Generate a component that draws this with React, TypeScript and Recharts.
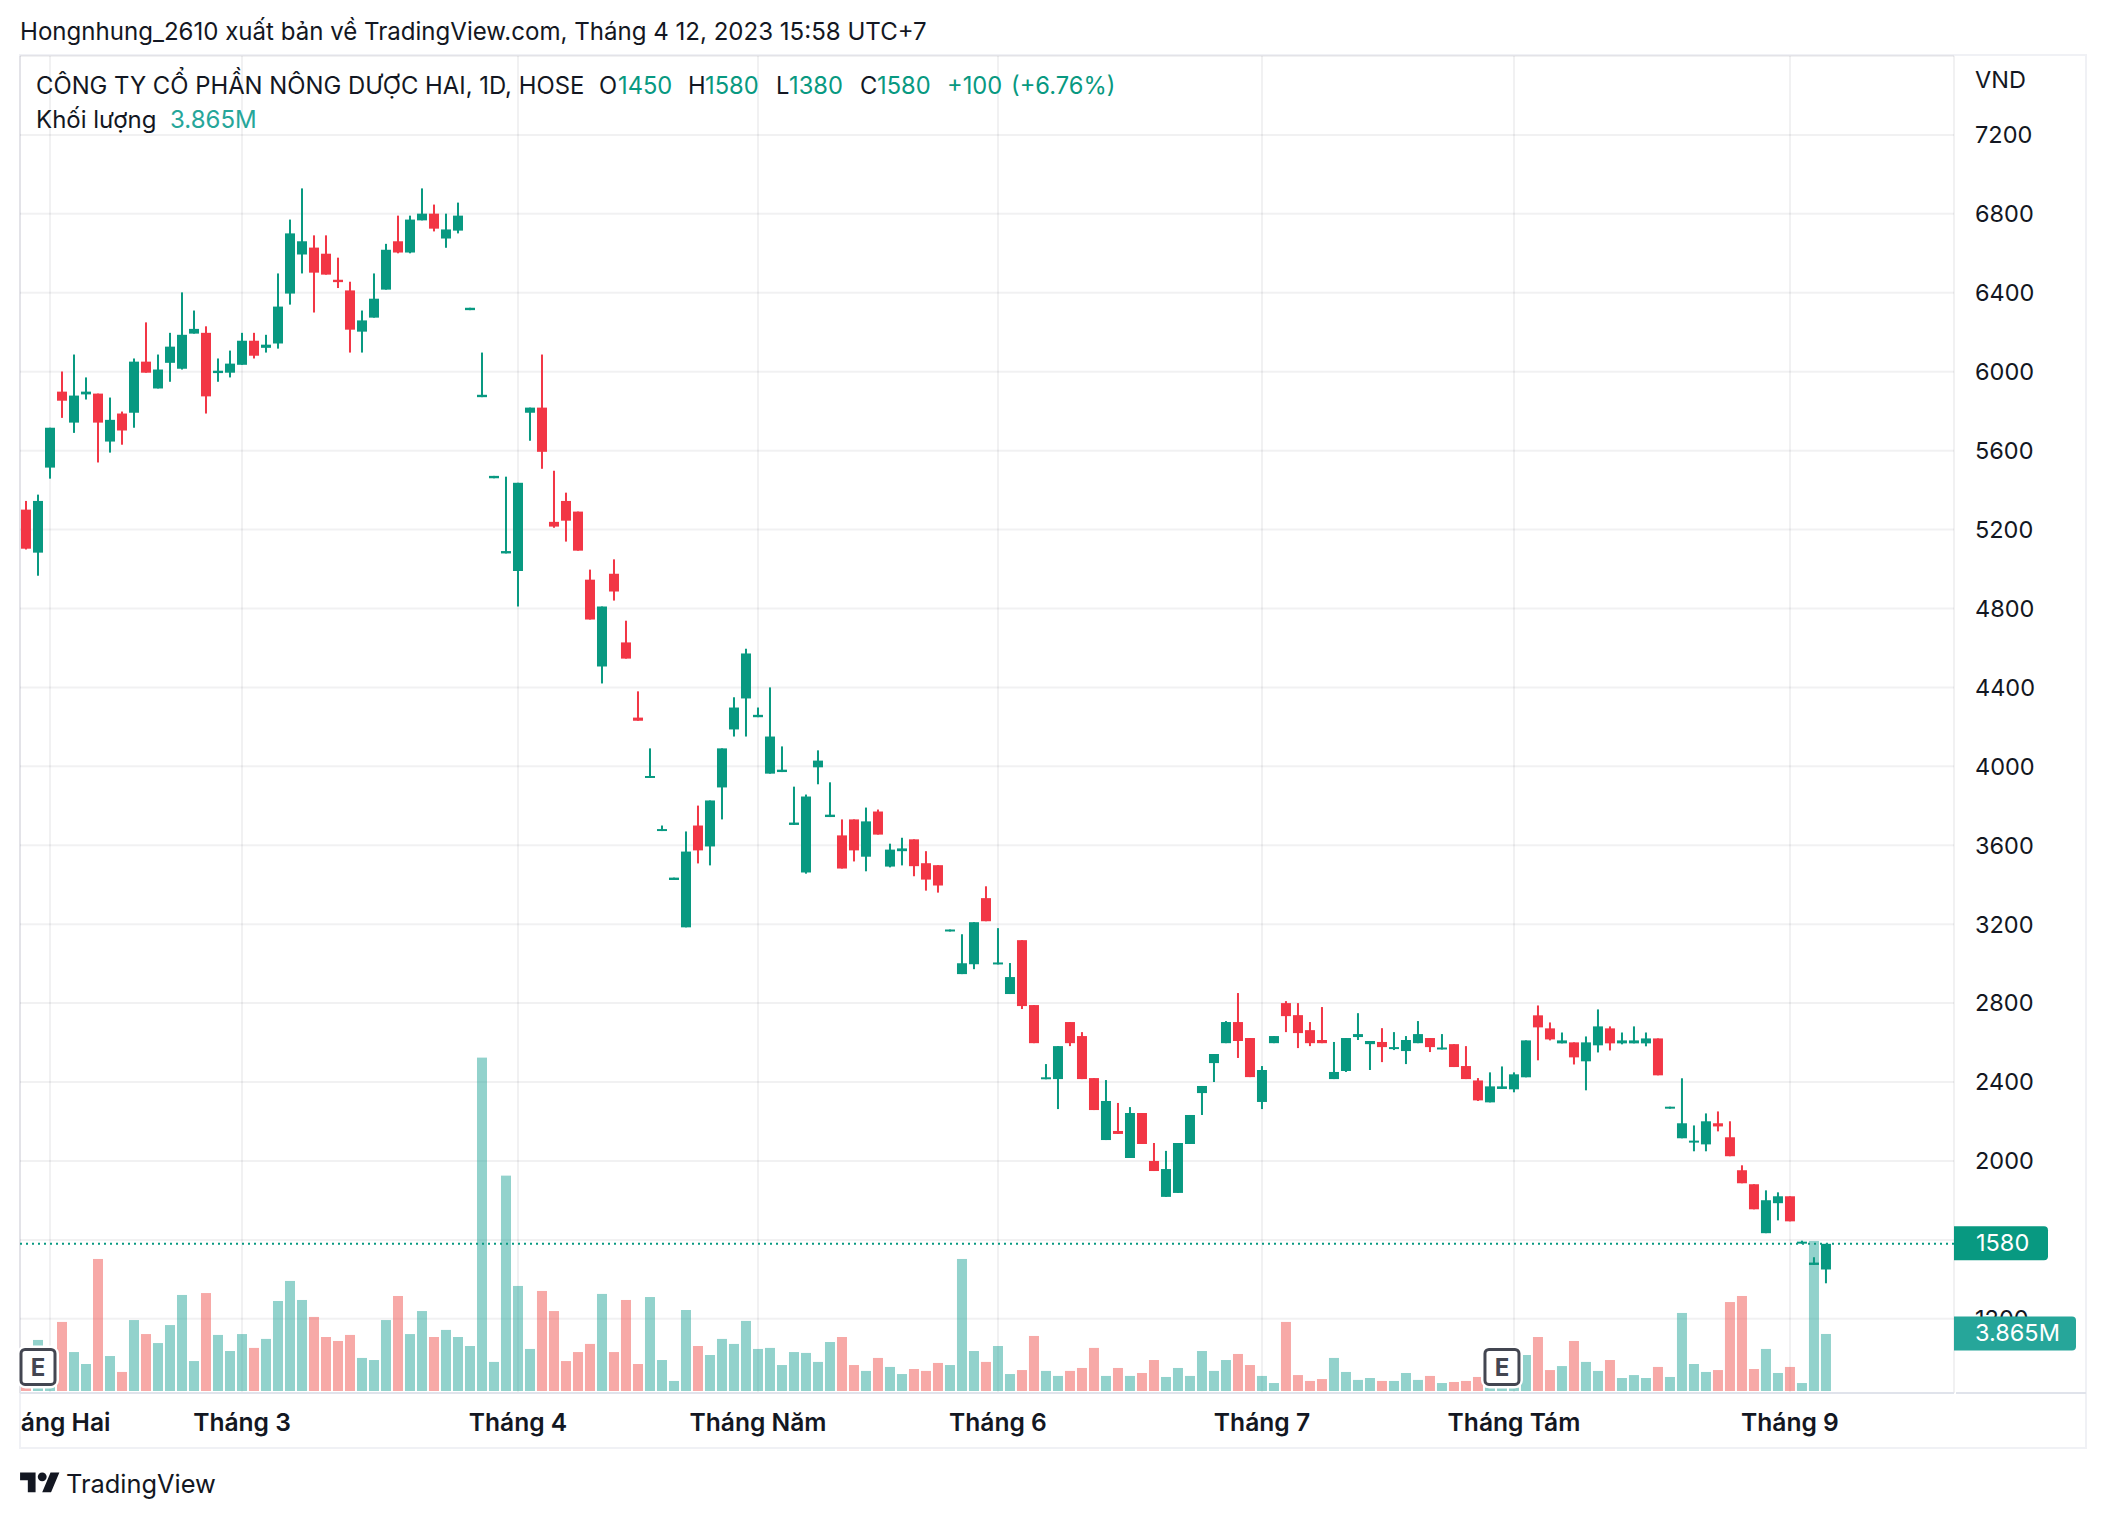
import React from "react";
import { ComposedChart, Bar, XAxis, YAxis, CartesianGrid, ReferenceLine, ReferenceDot } from "recharts";

const FONT = "Inter, 'Noto Sans', sans-serif";
const TEAL = "#089981";
const RED = "#F23645";
const VOL_TEAL = "#26a69a";
const VOL_RED = "#ef5350";
const INK = "#131722";
const GRID = "rgba(42,46,57,0.065)";

const titleText = "Hongnhung_2610 xuất bản về TradingView.com, Tháng 4 12, 2023 15:58 UTC+7";
const symbolText = "CÔNG TY CỔ PHẦN NÔNG DƯỢC HAI, 1D, HOSE";
const volumeLabel = "Khối lượng";
const lastVolumeText = "3.865M";
const lastPriceText = "1580";

const priceTicks = [1200, 1600, 2000, 2400, 2800, 3200, 3600, 4000, 4400, 4800, 5200, 5600, 6000, 6400, 6800, 7200];
const hiddenPriceLabels = [1600];
const monthTickIndex = [2, 18, 41, 61, 81, 103, 124, 147];
const monthTickLabels = ["Tháng Hai", "Tháng 3", "Tháng 4", "Tháng Năm", "Tháng 6", "Tháng 7", "Tháng Tám", "Tháng 9"];
const earningsIndex = [1, 123];

const opens = [
  5301, 5083, 5514, 5899, 5742, 5885, 5889, 5646, 5788, 5792, 6051, 5915, 6045, 6015, 6193, 6197, 5993, 5995, 6035, 6157,
  6121, 6143, 6396, 6594, 6629, 6598, 6466, 6412, 6203, 6274, 6416, 6661, 6604, 6767, 6801, 6675, 6715, 6312, 5871, 5460,
  5079, 4990, 5792, 5818, 5239, 5345, 5291, 4946, 4506, 4976, 4628, 4247, 3941, 3672, 3424, 3184, 3700, 3594, 3893, 4187,
  4344, 4249, 3963, 3971, 3703, 3462, 3995, 3743, 3650, 3731, 3542, 3771, 3492, 3570, 3630, 3509, 3499, 3163, 2947, 2997,
  3332, 2996, 2846, 3119, 2790, 2414, 2415, 2704, 2633, 2420, 2106, 2152, 2015, 2243, 2000, 1818, 1838, 2086, 2344, 2496,
  2597, 2704, 2623, 2299, 2597, 2800, 2739, 2663, 2613, 2415, 2456, 2628, 2592, 2603, 2567, 2557, 2597, 2623, 2565, 2592,
  2481, 2408, 2297, 2365, 2363, 2424, 2738, 2672, 2596, 2601, 2505, 2586, 2672, 2596, 2596, 2596, 2621, 2265, 2115, 2093,
  2084, 2191, 2120, 1953, 1882, 1634, 1786, 1821, 1581, 1473, 1450,
];
const highs = [
  5345, 5377, 5716, 6001, 6087, 5971, 5889, 5869, 5798, 6067, 6250, 6087, 6197, 6402, 6310, 6230, 6067, 6107, 6197, 6197,
  6187, 6498, 6771, 6929, 6691, 6691, 6578, 6456, 6310, 6498, 6648, 6791, 6791, 6929, 6847, 6801, 6857, 6324, 6097, 5472,
  5468, 5437, 5818, 6087, 5498, 5387, 5291, 4997, 4810, 5049, 4738, 4380, 4091, 3700, 3436, 3670, 3801, 3827, 4091, 4350,
  4596, 4298, 4400, 4101, 3897, 3857, 4081, 3919, 3731, 3731, 3791, 3781, 3608, 3638, 3630, 3570, 3499, 3173, 3149, 3210,
  3392, 3180, 3003, 3119, 2790, 2491, 2582, 2704, 2653, 2420, 2410, 2294, 2273, 2243, 2091, 2051, 2091, 2233, 2380, 2542,
  2709, 2851, 2623, 2481, 2633, 2810, 2800, 2704, 2780, 2603, 2623, 2749, 2608, 2673, 2653, 2633, 2709, 2623, 2643, 2592,
  2582, 2420, 2449, 2479, 2449, 2611, 2788, 2702, 2651, 2601, 2631, 2768, 2682, 2651, 2682, 2651, 2621, 2275, 2419, 2180,
  2241, 2251, 2201, 1978, 1882, 1851, 1841, 1821, 1596, 1512, 1580,
];
const lows = [
  5099, 4966, 5458, 5766, 5690, 5859, 5540, 5590, 5630, 5716, 5995, 5915, 5949, 6011, 6193, 5788, 5949, 5971, 6035, 6067,
  6097, 6117, 6340, 6498, 6300, 6492, 6424, 6097, 6097, 6274, 6416, 6600, 6600, 6767, 6711, 6628, 6701, 6312, 5871, 5460,
  5079, 4810, 5650, 5508, 5209, 5139, 5093, 4744, 4420, 4840, 4546, 4231, 3941, 3672, 3424, 3184, 3508, 3498, 3731, 4151,
  4151, 4249, 3963, 3971, 3703, 3456, 3909, 3743, 3482, 3518, 3468, 3654, 3488, 3498, 3443, 3370, 3360, 3163, 2947, 2972,
  3215, 2996, 2846, 2770, 2597, 2414, 2263, 2582, 2415, 2258, 2106, 2137, 2015, 2086, 1949, 1818, 1838, 2086, 2233, 2400,
  2597, 2522, 2425, 2263, 2597, 2653, 2572, 2582, 2597, 2415, 2451, 2613, 2461, 2501, 2562, 2491, 2597, 2552, 2565, 2476,
  2415, 2304, 2297, 2365, 2348, 2424, 2510, 2611, 2596, 2489, 2358, 2550, 2560, 2591, 2596, 2581, 2434, 2265, 2115, 2049,
  2049, 2150, 2024, 1887, 1755, 1634, 1699, 1694, 1581, 1473, 1380,
];
const closes = [
  5103, 5345, 5716, 5853, 5879, 5899, 5742, 5756, 5702, 6051, 5995, 6011, 6127, 6187, 6217, 5875, 6005, 6041, 6157, 6081,
  6137, 6330, 6701, 6661, 6502, 6492, 6454, 6213, 6260, 6370, 6618, 6604, 6771, 6801, 6725, 6721, 6791, 6324, 5883, 5472,
  5091, 5437, 5818, 5594, 5215, 5245, 5093, 4744, 4810, 4886, 4546, 4231, 3951, 3682, 3436, 3568, 3574, 3827, 4091, 4298,
  4572, 4261, 4151, 3983, 3715, 3847, 4029, 3755, 3482, 3574, 3721, 3654, 3578, 3584, 3494, 3426, 3396, 3173, 3002, 3210,
  3215, 3006, 2932, 2785, 2597, 2424, 2582, 2597, 2415, 2258, 2304, 2137, 2243, 2086, 1949, 1959, 2091, 2233, 2380, 2542,
  2704, 2608, 2425, 2461, 2633, 2734, 2648, 2597, 2597, 2451, 2623, 2643, 2608, 2577, 2577, 2613, 2643, 2577, 2575, 2476,
  2415, 2307, 2378, 2378, 2439, 2611, 2677, 2616, 2611, 2525, 2601, 2682, 2596, 2611, 2611, 2621, 2434, 2275, 2191, 2103,
  2201, 2175, 2024, 1887, 1755, 1801, 1821, 1694, 1591, 1485, 1580,
];
const volumesM = [
  0.8, 3.46, 1.6, 4.68, 2.64, 1.83, 8.95, 2.37, 1.29, 4.81, 3.86, 3.25, 4.47, 6.51, 2.03, 6.64, 3.8, 2.71, 3.86, 2.92,
  3.53, 6.1, 7.46, 6.17, 5.02, 3.66, 3.39, 3.8, 2.24, 2.1, 4.81, 6.44, 3.86, 5.42, 3.66, 4.14, 3.66, 3.05, 22.6, 1.97,
  14.6, 7.12, 2.85, 6.78, 5.42, 2.03, 2.64, 3.19, 6.58, 2.64, 6.17, 1.83, 6.37, 2.1, 0.68, 5.49, 3.05, 2.44, 3.53, 3.19,
  4.75, 2.85, 2.92, 1.76, 2.64, 2.58, 1.97, 3.32, 3.66, 1.76, 1.36, 2.24, 1.63, 1.15, 1.49, 1.36, 1.9, 1.76, 8.95, 2.71,
  1.97, 3.05, 1.15, 1.42, 3.73, 1.36, 1.02, 1.36, 1.56, 2.92, 1.02, 1.56, 1.02, 1.22, 2.1, 0.95, 1.56, 1.02, 2.71, 1.36,
  2.1, 2.51, 1.76, 1.02, 0.54, 4.68, 1.08, 0.68, 0.81, 2.24, 1.29, 0.75, 0.88, 0.68, 0.68, 1.22, 0.75, 1.02, 0.54, 0.61,
  0.68, 0.95, 0.23, 0.23, 0.23, 2.44, 3.66, 1.42, 1.69, 3.39, 1.97, 1.36, 2.1, 0.88, 1.08, 0.88, 1.63, 0.95, 5.29, 1.83,
  1.29, 1.42, 6.03, 6.44, 1.49, 2.85, 1.22, 1.63, 0.54, 10.17, 3.865,
];

const data = opens.map((open, i) => ({
  i,
  open,
  high: highs[i],
  low: lows[i],
  close: closes[i],
  range: [lows[i], highs[i]],
  volume: volumesM[i],
  up: closes[i] >= open,
}));

const X_DOMAIN: [number, number] = [-0.5, 160.67];
const PRICE_DOMAIN: [number, number] = [824, 7600];
const VOL_DOMAIN: [number, number] = [-0.136, 90.5];

function Candle(props: any) {
  const { x, y, width, height, payload } = props;
  const color = payload.up ? TEAL : RED;
  const perPrice = height / (payload.high - payload.low);
  const cx = x + width / 2;
  const top = y + (payload.high - Math.max(payload.open, payload.close)) * perPrice;
  const bodyH = Math.abs(payload.open - payload.close) * perPrice;
  return (
    <g>
      <rect x={cx - 1} y={y} width={2} height={height} fill={color} />
      <rect x={cx - 5} y={top} width={10} height={Math.max(bodyH, 1.5)} fill={color} />
    </g>
  );
}

function VolumeBar(props: any) {
  const { x, y, width, height, payload } = props;
  return <rect x={x} y={y} width={width} height={height} fill={payload.up ? VOL_TEAL : VOL_RED} fillOpacity={0.5} />;
}

function MonthTick(props: any) {
  const { x, y, payload } = props;
  const label = monthTickLabels[monthTickIndex.indexOf(payload.value)];
  return (
    <g>
      <defs>
        <clipPath id={`month-clip-${payload.value}`}>
          <rect x={21} y={y - 10} width={2060} height={60} />
        </clipPath>
      </defs>
      <text
        x={x}
        y={y + 28.5}
        clipPath={`url(#month-clip-${payload.value})`}
        textAnchor="middle"
        dominantBaseline="central"
        fontFamily={FONT}
        fontSize={24.6}
        fontWeight={600}
        fill={INK}
      >
        {label}
      </text>
    </g>
  );
}

function PriceTick(props: any) {
  const { x, y, payload } = props;
  if (hiddenPriceLabels.includes(payload.value)) return <g />;
  return (
    <text x={x} y={y} dy="0.355em" textAnchor="start" fontFamily={FONT} fontSize={23.5} fill={INK}>
      {payload.value}
    </text>
  );
}

function ValueTag(props: any) {
  const { viewBox, text, fill, tagWidth, textX } = props;
  const left = viewBox.x + viewBox.width;
  const cy = viewBox.y;
  const r = 4;
  const top = cy - 17.5;
  const d = `M${left} ${top}H${left + tagWidth - r}a${r} ${r} 0 0 1 ${r} ${r}V${top + 34 - r}a${r} ${r} 0 0 1 -${r} ${r}H${left}Z`;
  return (
    <g>
      <path d={d} fill={fill} />
      <text x={left + textX} y={cy} dy="0.31em" fontFamily={FONT} fontSize={23.5} fill="#ffffff">
        {text}
      </text>
    </g>
  );
}

function EarningsMark(props: any) {
  const { cx, cy } = props;
  return (
    <g>
      <rect x={cx - 17.5} y={cy - 18} width={35} height={36} rx={5} fill="#ffffff" stroke="#ffffff" strokeWidth={7} />
      <rect x={cx - 17} y={cy - 17.5} width={34} height={35} rx={4} fill="#ffffff" stroke="#434651" strokeWidth={3} />
      <text x={cx} y={cy + 1} textAnchor="middle" dominantBaseline="central" fontFamily={FONT} fontSize={24} fontWeight={700} fill="#434651">
        E
      </text>
    </g>
  );
}

const legendItems: [string, string, number][] = [
  ["O", INK, 599],
  ["1450", TEAL, 618],
  ["H", INK, 688],
  ["1580", TEAL, 705],
  ["L", INK, 776],
  ["1380", TEAL, 789],
  ["C", INK, 860],
  ["1580", TEAL, 877],
  ["+100", TEAL, 947],
  ["(+6.76%)", TEAL, 1011],
];

const textStyle = (left: number, top: number, color: string, size = 24): React.CSSProperties => ({
  position: "absolute",
  left,
  top,
  color,
  fontFamily: FONT,
  fontSize: size,
  lineHeight: "32px",
  whiteSpace: "nowrap",
});

export default function App() {
  return (
    <div style={{ position: "absolute", left: 0, top: 0, width: 2106, height: 1518, background: "#fff", overflow: "hidden" }}>
      <div style={{ position: "absolute", left: 19, top: 54, width: 2068, height: 1395, border: "2px solid #f0f1f5", boxSizing: "border-box" }} />
      <div style={{ position: "absolute", left: 1956, top: 1392, width: 130, height: 2, background: "#e0e3eb" }} />
      <ComposedChart
        width={2106}
        height={1518}
        data={data}
        margin={{ top: 56, right: 0, bottom: 70, left: 20 }}
        style={{ position: "absolute", left: 0, top: 0 }}
      >
        <CartesianGrid xAxisId="main" yAxisId="price" stroke={GRID} strokeWidth={2} />
        <XAxis
          xAxisId="main"
          dataKey="i"
          type="number"
          domain={X_DOMAIN}
          allowDataOverflow
          ticks={monthTickIndex}
          interval={0}
          height={55}
          tickLine={false}
          tickSize={0}
          tickMargin={0}
          axisLine={{ stroke: "#e0e3eb", strokeWidth: 2 }}
          tick={(p: any) => <MonthTick {...p} />}
        />
        <XAxis xAxisId="vol" dataKey="i" type="number" domain={X_DOMAIN} allowDataOverflow hide />
        <YAxis
          yAxisId="price"
          orientation="right"
          type="number"
          domain={PRICE_DOMAIN}
          allowDataOverflow
          ticks={priceTicks}
          interval={0}
          width={152}
          axisLine={false}
          tickLine={false}
          tickSize={0}
          tickMargin={21}
          tick={(p: any) => <PriceTick {...p} />}
        />
        <YAxis yAxisId="vol" type="number" domain={VOL_DOMAIN} allowDataOverflow hide />
        <Bar xAxisId="vol" yAxisId="vol" dataKey="volume" barSize={10} shape={(p: any) => <VolumeBar {...p} />} isAnimationActive={false} />
        <ReferenceLine xAxisId="main" yAxisId="price" y={1580} stroke={TEAL} strokeWidth={2} strokeDasharray="2 4" />
        <Bar xAxisId="main" yAxisId="price" dataKey="range" barSize={10} shape={(p: any) => <Candle {...p} />} isAnimationActive={false} />
        {earningsIndex.map((idx) => (
          <ReferenceDot key={idx} xAxisId="main" yAxisId="vol" x={idx} y={1.63} r={18} shape={(p: any) => <EarningsMark {...p} />} />
        ))}
      </ComposedChart>

      {/* Second layer with the same scales: the value tags sit above the axis labels */}
      <ComposedChart
        width={2106}
        height={1518}
        data={data}
        margin={{ top: 56, right: 152, bottom: 125, left: 20 }}
        style={{ position: "absolute", left: 0, top: 0 }}
      >
        <XAxis xAxisId="main" dataKey="i" type="number" domain={X_DOMAIN} allowDataOverflow hide />
        <YAxis yAxisId="price" type="number" domain={PRICE_DOMAIN} allowDataOverflow hide />
        <YAxis yAxisId="vol" type="number" domain={VOL_DOMAIN} allowDataOverflow hide />
        <ReferenceLine xAxisId="main" yAxisId="price" y={1580} stroke="none" label={<ValueTag text={lastPriceText} fill={TEAL} tagWidth={94} textX={22} />} />
        <ReferenceLine xAxisId="main" yAxisId="vol" y={3.865} stroke="none" label={<ValueTag text={lastVolumeText} fill={VOL_TEAL} tagWidth={122} textX={21} />} />
      </ComposedChart>

      <div style={textStyle(20, 16, INK, 24.07)}>{titleText}</div>
      <div style={textStyle(36, 70, INK, 23.85)}>{symbolText}</div>
      {legendItems.map(([t, c, x], k) => (
        <div key={k} style={textStyle(x, 70, c, 23.7)}>{t}</div>
      ))}
      <div style={textStyle(36, 104, INK)}>{volumeLabel}</div>
      <div style={textStyle(170, 104, VOL_TEAL)}>{lastVolumeText}</div>
      <div style={textStyle(1975, 64, INK, 23.5)}>VND</div>

      <svg style={{ position: "absolute", left: 20, top: 1468 }} width={40} height={31} viewBox="0 0 36 28">
        <path d="M14 22H7V11H0V4h14v18zM28 22h-8l7.5-18h8L28 22z" fill={INK} />
        <circle cx="20" cy="8" r="4" fill={INK} />
      </svg>
      <div style={textStyle(66, 1468, INK, 25.4)}>TradingView</div>
    </div>
  );
}
